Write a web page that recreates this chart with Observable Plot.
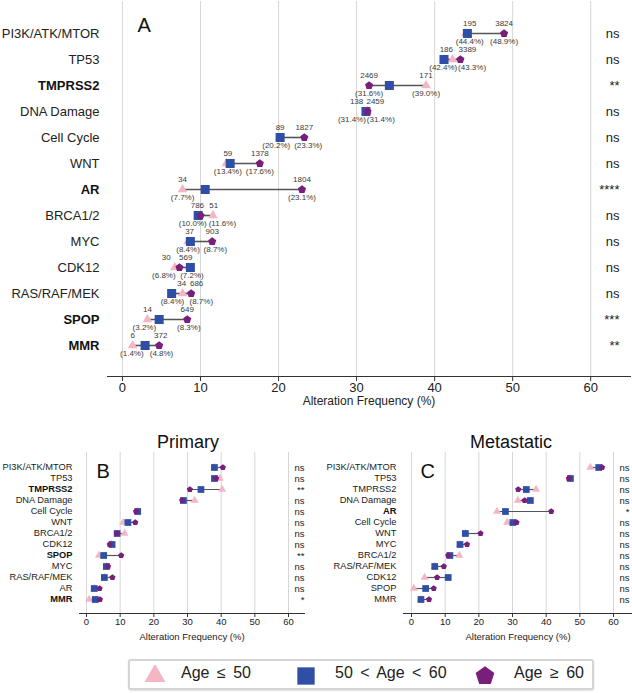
<!DOCTYPE html>
<html><head><meta charset="utf-8">
<script src="https://cdn.jsdelivr.net/npm/d3@7"></script>
<script src="https://cdn.jsdelivr.net/npm/@observablehq/plot@0.6"></script>
<style>
body{margin:0;background:#fff;font-family:"Liberation Sans",Arial,sans-serif;}
#wrap{position:relative;width:632px;height:693px;overflow:hidden;}
.abs{position:absolute;}
#legend{position:absolute;left:128px;top:659px;width:462px;height:27px;border:2px solid #d4d4d4;border-radius:3px;background:#fff;box-shadow:0 1px 2px rgba(0,0,0,0.12);}
#legend span{position:absolute;top:3px;font-size:16px;color:#222;word-spacing:3px;white-space:pre;}
#legend svg{position:absolute;top:4px;}
</style></head><body><div id="wrap"></div>
<script>
// ---------- shared ----------
const groups = ["Age ≤ 50", "50 < Age < 60", "Age ≥ 60"];
const xTicks = [0, 10, 20, 30, 40, 50, 60];
const axisTitle = "Alteration Frequency (%)";

// ---------- Panel A (all samples) ----------
const pathwaysA = ["PI3K/ATK/MTOR","TP53","TMPRSS2","DNA Damage","Cell Cycle","WNT","AR","BRCA1/2","MYC","CDK12","RAS/RAF/MEK","SPOP","MMR"];
const boldA = ["TMPRSS2","AR","SPOP","MMR"];
const sigA = ["ns","ns","**","ns","ns","ns","****","ns","ns","ns","ns","***","**"];
const youngA = [44.0, 42.3, 38.9, 31.4, 20.2, 13.3, 7.7, 11.6, 8.4, 6.7, 7.7, 3.2, 1.3];
const midA   = [44.2, 41.2, 34.2, 31.2, 20.2, 13.8, 10.6, 9.7, 8.7, 8.7, 6.3, 4.7, 2.9];
const oldA   = [48.9, 43.3, 31.6, 31.4, 23.3, 17.6, 23.0, 10.0, 11.5, 7.3, 8.8, 8.3, 4.7];
const countTextA = [["195","3824"],["186","3389"],["2469","171"],["138","2459"],["89","1827"],["59","1378"],["34","1804"],["786","51"],["37","903"],["30","569"],["34","686"],["14","649"],["6","372"]];
const countPosA  = [[44.5,48.9],[41.5,44.2],[31.6,38.9],[30.0,32.4],[20.2,23.3],[13.5,17.6],[7.7,23.0],[9.6,11.7],[8.6,11.5],[5.6,8.1],[7.6,9.5],[3.2,8.3],[1.3,4.9]];
const pctTextA = [["(44.4%)","(48.9%)"],["(42.4%)","(43.3%)"],["(31.6%)","(39.0%)"],["(31.4%)","(31.4%)"],["(20.2%)","(23.3%)"],["(13.4%)","(17.6%)"],["(7.7%)","(23.1%)"],["(10.0%)","(11.6%)"],["(8.4%)","(8.7%)"],["(6.8%)","(7.2%)"],["(8.4%)","(8.7%)"],["(3.2%)","(8.3%)"],["(1.4%)","(4.8%)"]];
const pctPosA  = [[44.5,48.9],[41.1,44.8],[31.6,38.9],[29.4,33.1],[19.7,23.8],[13.5,17.6],[7.7,23.0],[9.0,12.8],[8.4,11.9],[5.3,8.9],[6.4,10.1],[2.8,8.5],[1.2,5.0]];

// ---------- Panel B (Primary) ----------
const pathwaysB = ["PI3K/ATK/MTOR","TP53","TMPRSS2","DNA Damage","Cell Cycle","WNT","BRCA1/2","CDK12","SPOP","MYC","RAS/RAF/MEK","AR","MMR"];
const boldB = ["TMPRSS2","SPOP","MMR"];
const sigB = ["ns","ns","**","ns","ns","ns","ns","ns","**","ns","ns","ns","*"];
const youngB = [38.0, 39.6, 40.3, 32.1, 15.2, 10.9, 11.3, 7.4, 3.7, 5.9, 5.3, 2.3, 0.8];
const midB   = [38.0, 38.0, 34.0, 28.8, 15.2, 12.3, 9.1, 7.6, 5.1, 5.9, 5.3, 2.3, 2.6];
const oldB   = [40.5, 38.5, 30.7, 28.4, 14.7, 14.5, 9.1, 6.9, 10.3, 6.4, 7.7, 3.9, 4.0];

// ---------- Panel C (Metastatic) ----------
const pathwaysC = ["PI3K/ATK/MTOR","TP53","TMPRSS2","DNA Damage","AR","Cell Cycle","WNT","MYC","BRCA1/2","RAS/RAF/MEK","CDK12","SPOP","MMR"];
const boldC = ["AR"];
const sigC = ["ns","ns","ns","ns","*","ns","ns","ns","ns","ns","ns","ns","ns"];
const youngC = [53.1, 47.2, 37.0, 31.6, 25.4, 28.4, 16.0, 14.4, 14.2, 6.9, 3.9, 0.7, 2.8];
const midC   = [55.6, 47.2, 34.1, 35.3, 27.9, 30.1, 16.0, 14.4, 11.4, 6.9, 10.9, 4.2, 2.8];
const oldC   = [56.6, 46.7, 31.7, 33.6, 41.5, 31.2, 20.5, 16.5, 10.9, 9.6, 7.6, 6.6, 5.2];

const colors = ["#F4B6C4", "#2F4FA6", "#7A1E7C"];
const pentagon = {
  draw(ctx, size) {
    const R = Math.sqrt(size / 2.3776);
    for (let i = 0; i < 5; i++) {
      const a = -Math.PI / 2 + i * 2 * Math.PI / 5;
      const x = R * Math.cos(a), y = R * Math.sin(a);
      if (i) ctx.lineTo(x, y); else ctx.moveTo(x, y);
    }
    ctx.closePath();
  }
};

function panel(o) {
  const rec = o.rows.map((p, i) => ({p, young: o.young[i], mid: o.mid[i], old: o.old[i], sig: o.sig[i]}));
  const marks = [
    Plot.gridX(xTicks, {stroke: "#d6d6d6", strokeOpacity: 1, strokeWidth: 1}),
    Plot.frame({anchor: "bottom", stroke: "#333", strokeWidth: 1}),
    Plot.axisX({ticks: xTicks, tickSize: o.tickSize, tickPadding: o.tickPad, fontSize: o.tickFont, label: null, stroke: "#333"}),
    Plot.text([axisTitle], {text: d => d, frameAnchor: "bottom", dy: o.titleDy, fontSize: o.titleFont, fill: "#222"}),
    Plot.text(o.rows.filter(p => !o.bold.includes(p)), {y: d => d, text: d => d, frameAnchor: "left", textAnchor: "end", dx: o.labelDx, fontSize: o.labelFont, fill: "#222"}),
    Plot.text(o.rows.filter(p => o.bold.includes(p)), {y: d => d, text: d => d, frameAnchor: "left", textAnchor: "end", dx: o.labelDx, fontSize: o.labelFont, fontWeight: "bold", fill: "#111"}),
    Plot.text(rec, {y: "p", text: "sig", frameAnchor: "right", textAnchor: "end", dx: o.sigDx, fontSize: o.sigFont, fill: "#222"}),
    Plot.ruleY(rec, {y: "p", x1: d => Math.min(d.young, d.mid, d.old), x2: d => Math.max(d.young, d.mid, d.old), stroke: "#555", strokeWidth: o.lineW}),
    Plot.dot(rec, {x: "young", y: "p", symbol: "triangle", r: o.rTri, fill: colors[0]}),
    Plot.dot(rec, {x: "mid", y: "p", symbol: "square", r: o.rSq, fill: colors[1]}),
    Plot.dot(rec, {x: "old", y: "p", symbol: pentagon, r: o.rPent, fill: colors[2]}),
    Plot.text([o.letter], {text: d => d, frameAnchor: "top-left", textAnchor: "start", dx: o.letterDx, dy: o.letterDy, fontSize: 20, fill: "#111"})
  ];
  if (o.heading) marks.push(Plot.text([o.heading], {text: d => d, frameAnchor: "top", dx: o.headDx, dy: o.headDy, fontSize: 18, fill: "#111"}));
  if (o.extra) marks.push(...o.extra);
  return Plot.plot({
    width: o.width, height: o.height,
    marginLeft: o.ml, marginRight: o.mr, marginTop: o.mt, marginBottom: o.mb,
    x: {domain: o.xDomain},
    y: {type: "point", domain: o.rows, padding: o.pad, axis: null},
    style: {fontFamily: "'Liberation Sans', Arial, sans-serif", color: "#222", background: "transparent", overflow: "visible"},
    marks
  });
}

const recLabelsA = (texts, pos) => pathwaysA.flatMap((p, i) => texts[i].map((t, j) => ({p, x: pos[i][j], t})));

const svgA = panel({
  rows: pathwaysA, bold: boldA, sig: sigA, young: youngA, mid: midA, old: oldA,
  width: 632, height: 415, ml: 107, mr: 2, mt: 1, mb: 39, xDomain: [-1.92, 65.1], pad: 1,
  tickSize: 5, tickPad: 1, tickFont: 13, titleDy: 28, titleFont: 12,
  labelDx: -8, labelFont: 13, sigDx: -11, sigFont: 13, lineW: 1.6,
  rTri: 3.6, rSq: 5.1, rPent: 3.7, letter: "A", letterDx: 30, letterDy: 16,
  extra: [
    Plot.text(recLabelsA(countTextA, countPosA), {x: "x", y: "p", text: "t", dy: -10, fontSize: 8, fill: "#3a3a3a"}),
    Plot.text(recLabelsA(pctTextA, pctPosA), {x: "x", y: "p", text: "t", dy: 8.2, fontSize: 8, fill: "#3a3a3a"})
  ]
});
const svgB = panel({
  rows: pathwaysB, bold: boldB, sig: sigB, young: youngB, mid: midB, old: oldB,
  width: 306, height: 225, ml: 79, mr: 2, mt: 32, mb: 32, xDomain: [-2.08, 64.75], pad: 0.85,
  tickSize: 4, tickPad: 1, tickFont: 9.5, titleDy: 26, titleFont: 9.5,
  labelDx: -7, labelFont: 9.3, sigDx: 0, sigFont: 9.5, lineW: 1.2,
  rTri: 3.0, rSq: 3.8, rPent: 2.8, letter: "B", letterDx: 17, letterDy: 11,
  heading: "Primary", headDx: -4, headDy: -17
});
const svgC = panel({
  rows: pathwaysC, bold: boldC, sig: sigC, young: youngC, mid: midC, old: oldC,
  width: 322, height: 225, ml: 93, mr: 0, mt: 32, mb: 32, xDomain: [-2.38, 65.64], pad: 0.85,
  tickSize: 4, tickPad: 1, tickFont: 9.5, titleDy: 26, titleFont: 9.5,
  labelDx: -7, labelFont: 9.3, sigDx: -3, sigFont: 9.5, lineW: 1.2,
  rTri: 3.0, rSq: 3.8, rPent: 2.8, letter: "C", letterDx: 17, letterDy: 11,
  heading: "Metastatic", headDx: -7, headDy: -17
});

const wrap = document.getElementById("wrap");
function place(el, left, top) { el.classList.add("abs"); el.style.left = left + "px"; el.style.top = top + "px"; wrap.appendChild(el); }
place(svgA, 0, 0);
place(svgB, 0, 420);
place(svgC, 310, 420);

// legend
const legend = document.createElement("div");
legend.id = "legend";
const icon = (i) => {
  const s = d3.create("svg").attr("width", 22).attr("height", 20);
  const sym = [d3.symbolTriangle, d3.symbolSquare, pentagon][i];
  const size = [190, 300, 230][i];
  s.append("path").attr("transform", "translate(11,11)").attr("d", d3.symbol(sym, size)()).attr("fill", colors[i]);
  return s.node();
};
const iconX = [14, 165, 344], textX = [51, 205, 384];
groups.forEach((g, i) => {
  const ic = icon(i); ic.style.left = iconX[i] + "px"; legend.appendChild(ic);
  const sp = document.createElement("span"); sp.textContent = g; sp.style.left = textX[i] + "px"; legend.appendChild(sp);
});
wrap.appendChild(legend);
</script></body></html>
